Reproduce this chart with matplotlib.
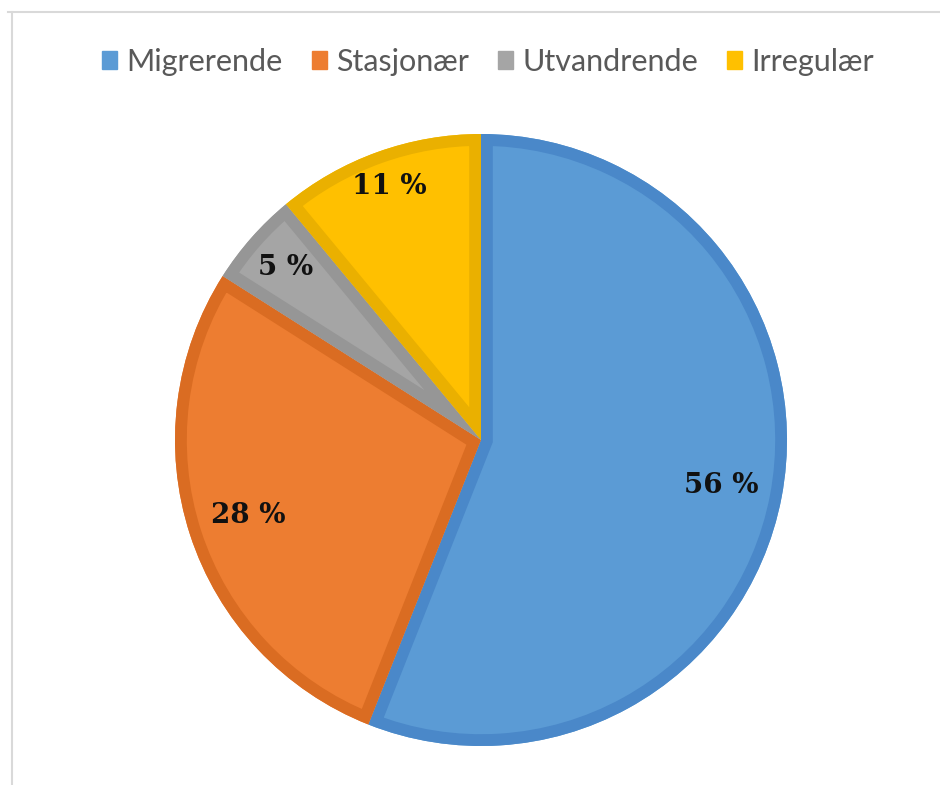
import numpy as np
import matplotlib.pyplot as plt
from matplotlib.lines import Line2D
from matplotlib.patches import Wedge

# data
labels = ['Migrerende', 'Stasjonær', 'Utvandrende', 'Irregulær']
values = [56, 28, 5, 11]
fill_colors = ['#5B9BD5', '#ED7D31', '#A5A5A5', '#FFC000']
edge_colors = ['#4A88C9', '#DA6C22', '#969696', '#EAB000']

fig = plt.figure(figsize=(9.4, 7.85), dpi=100)

# pie centre ~ (481, 440) px, radius ~306 px
W, H = 940, 785
cx, cy, r = 481, 440, 306
ax = fig.add_axes([(cx - r) / W, (H - cy - r) / H, 2 * r / W, 2 * r / H])

wedges, texts, autotexts = ax.pie(
    values, colors=fill_colors, startangle=90, counterclock=False,
    autopct=lambda p: f'{p:.0f} %', pctdistance=0.8,
    wedgeprops=dict(linewidth=0),
    textprops=dict(family='DejaVu Serif', fontweight='bold',
                   fontsize=20, color='#111111'))

# inner border like Excel: a copy of each wedge stroked wide, clipped to the wedge
for w, ec in zip(wedges, edge_colors):
    border = Wedge(w.center, w.r, w.theta1, w.theta2, facecolor='none',
                   edgecolor=ec, linewidth=17, zorder=w.get_zorder() + 0.1)
    ax.add_patch(border)
    border.set_clip_path(w)

# small slices have their labels a bit further out
label_dist = [0.8, 0.8, 0.85, 0.88]
for w, t, d in zip(wedges, autotexts, label_dist):
    mid = np.deg2rad((w.theta1 + w.theta2) / 2)
    t.set_position((d * np.cos(mid), d * np.sin(mid)))
    t.set_zorder(5)

ax.set_xlim(-1, 1)
ax.set_ylim(-1, 1)
ax.set_aspect('equal')
ax.axis('off')

# legend on top
handles = [plt.Rectangle((0, 0), 1, 1, color=c) for c in fill_colors]
fig.legend(handles, labels, loc='center', bbox_to_anchor=(488 / W, 1 - 62 / H),
           ncol=4, frameon=False, handlelength=0.5, handleheight=0.5,
           handletextpad=0.3, columnspacing=0.95,
           prop=dict(family='Lato', size=22), labelcolor='#595959')

# chart area border (top and left visible)
fig.add_artist(Line2D([8 / W, 1], [1 - 12 / H, 1 - 12 / H], color='#D9D9D9', lw=1.5))
fig.add_artist(Line2D([12 / W, 12 / W], [0, 1 - 12 / H], color='#D9D9D9', lw=1.5))

fig.savefig('out.png', dpi=100)
